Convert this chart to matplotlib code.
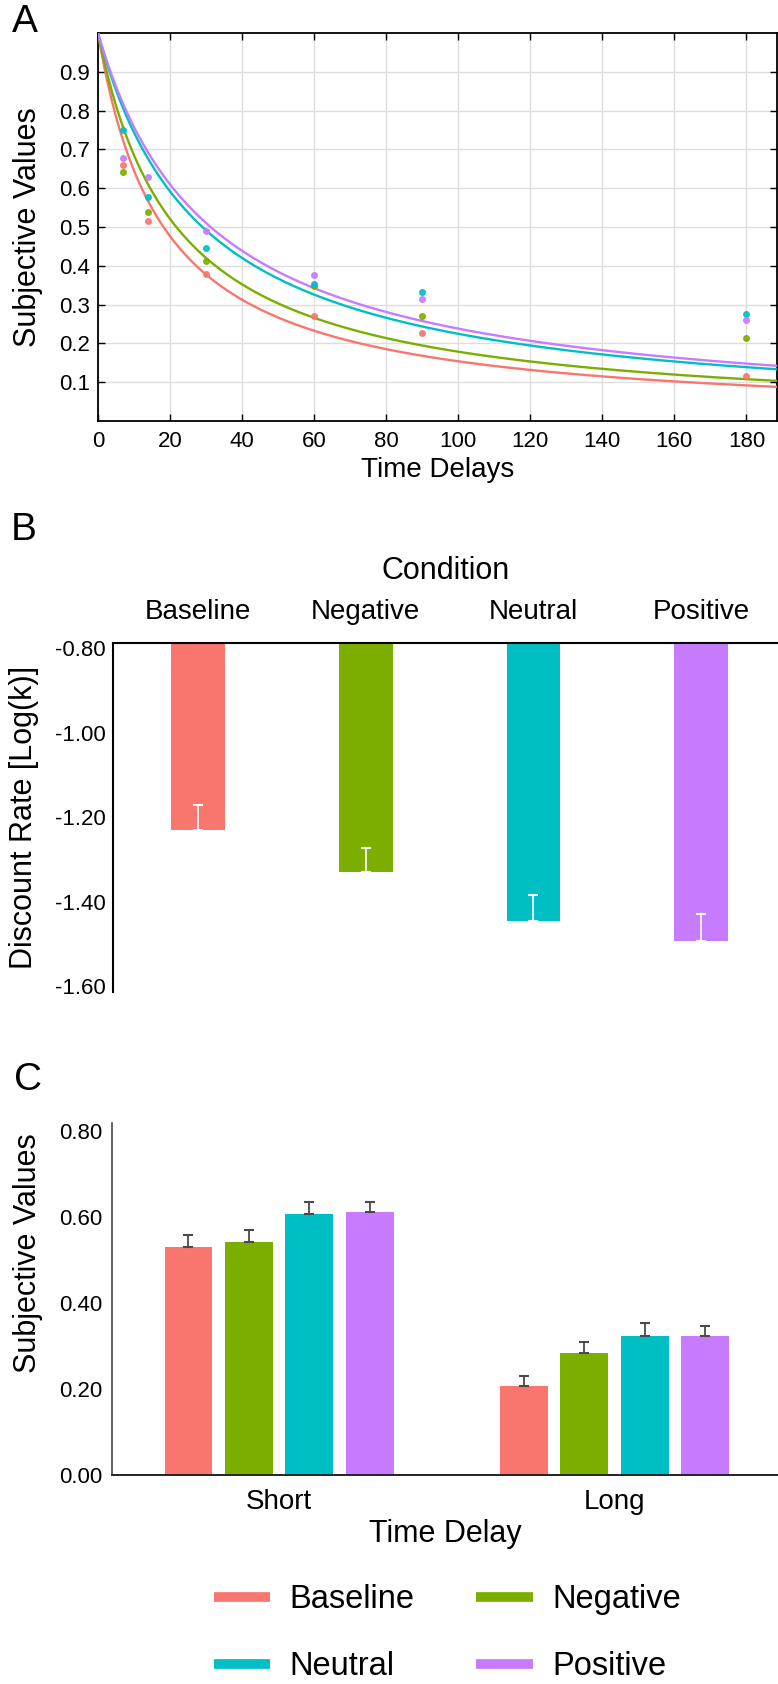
import numpy as np
import matplotlib
matplotlib.use('Agg')
import matplotlib.pyplot as plt
from matplotlib.lines import Line2D

plt.rcParams['font.family'] = ['Liberation Sans', 'DejaVu Sans']

# --- data ---
conditions = ['Baseline', 'Negative', 'Neutral', 'Positive']
colors = ['#F8766D', '#7CAE00', '#00BFC4', '#C77CFF']

# panel A: observed subjective values per delay
delays = [7, 14, 30, 60, 90, 180]
sv_baseline = [0.659, 0.515, 0.379, 0.270, 0.228, 0.116]
sv_negative = [0.641, 0.539, 0.413, 0.348, 0.270, 0.215]
sv_neutral = [0.750, 0.577, 0.445, 0.353, 0.333, 0.275]
sv_positive = [0.677, 0.630, 0.490, 0.376, 0.315, 0.260]
# fitted hyperbolic discount rates used for the curves
curve_k = [0.055, 0.046, 0.0345, 0.032]

# panel B: log(k) per condition
logk_mean = [-1.231, -1.329, -1.446, -1.493]
logk_se = [0.059, 0.055, 0.061, 0.063]

# panel C: subjective values by time delay
delay_groups = ['Short', 'Long']
short_mean = [0.530, 0.541, 0.606, 0.611]
short_se = [0.027, 0.029, 0.029, 0.024]
long_mean = [0.207, 0.284, 0.324, 0.324]
long_se = [0.024, 0.025, 0.029, 0.023]

W, H = 778, 1684
fig = plt.figure(figsize=(W / 100, H / 100), dpi=100)


def box(left, top, right, bottom):
    return [left / W, 1 - bottom / H, (right - left) / W, (bottom - top) / H]


# ---------------- Panel A ----------------
axA = fig.add_axes(box(98, 33, 777, 421))
obs = [sv_baseline, sv_negative, sv_neutral, sv_positive]
dgrid = np.linspace(0, 190, 400)
for k, col in zip(curve_k, colors):
    axA.plot(dgrid, 1 / (1 + k * dgrid), color=col, lw=1.7, zorder=3)
for vals, col in zip(obs, colors):
    axA.plot(delays, vals, 'o', color=col, ms=4, zorder=4, alpha=0.9)
axA.set_xlim(0, 188.5)
axA.set_ylim(0, 1)
axA.set_xticks(range(0, 181, 20))
axA.set_yticks(np.arange(1, 10) / 10)
axA.set_yticklabels([f'{v:.1f}' for v in np.arange(1, 10) / 10])
axA.grid(True, color='#dedede', lw=1)
axA.set_axisbelow(True)
axA.tick_params(direction='in', top=True, right=True, length=5, width=1)
axA.tick_params(axis='y', labelsize=16, pad=6)
axA.tick_params(axis='x', labelsize=16, pad=7)
for s in axA.spines.values():
    s.set_linewidth(1.3)
axA.set_xlabel('Time Delays', fontsize=20, labelpad=4)
axA.set_ylabel('Subjective Values', fontsize=22)
axA.yaxis.set_label_coords(-0.081, 0.5)

# ---------------- Panel B ----------------
axB = fig.add_axes(box(113, 642.7, 778, 991.7))
xb = np.arange(len(conditions))
axB.bar(xb, logk_mean, width=0.32, color=colors)
axB.errorbar(xb, logk_mean, yerr=[np.zeros(4), logk_se], fmt='none',
             ecolor='white', elinewidth=1.2, capsize=3.5, capthick=1.5)
axB.set_ylim(-1.613, -0.787)
axB.set_xlim(-0.507, 3.459)
axB.set_yticks([-0.8, -1.0, -1.2, -1.4, -1.6])
axB.set_yticklabels(['-0.80', '-1.00', '-1.20', '-1.40', '-1.60'])
axB.set_xticks(xb)
axB.set_xticklabels(conditions)
axB.xaxis.tick_top()
axB.xaxis.set_label_position('top')
axB.tick_params(length=0)
axB.tick_params(axis='x', labelsize=20, pad=13)
axB.tick_params(axis='y', labelsize=16, pad=5)
axB.spines['bottom'].set_visible(False)
axB.spines['right'].set_visible(False)
axB.spines['top'].set_linewidth(1.5)
axB.spines['left'].set_linewidth(1.5)
axB.set_xlabel('Condition', fontsize=22, labelpad=14)
axB.set_ylabel('Discount Rate [Log(k)]', fontsize=22)
axB.yaxis.set_label_coords(-0.111, 0.5)

# ---------------- Panel C ----------------
axC = fig.add_axes(box(112, 1123, 778, 1475))
xc = np.arange(len(delay_groups))
step, bw = 0.18, 0.143
for i, col in enumerate(colors):
    vals = [short_mean[i], long_mean[i]]
    errs = [short_se[i], long_se[i]]
    pos = xc + (i - 1.5) * step
    axC.bar(pos, vals, width=bw, color=col)
    axC.errorbar(pos, vals, yerr=[[0, 0], errs], fmt='none', ecolor='#4a4a4a',
                 elinewidth=1.3, capsize=3.5, capthick=1.5)
axC.set_ylim(0, 0.8186)
axC.set_xlim(-0.498, 1.487)
axC.set_yticks([0, 0.2, 0.4, 0.6, 0.8])
axC.set_yticklabels(['0.00', '0.20', '0.40', '0.60', '0.80'])
axC.set_xticks(xc)
axC.set_xticklabels(delay_groups)
axC.tick_params(length=0)
axC.tick_params(axis='x', labelsize=20, pad=10)
axC.tick_params(axis='y', labelsize=16, pad=7)
axC.spines['top'].set_visible(False)
axC.spines['right'].set_visible(False)
axC.spines['left'].set_color('#444444')
axC.spines['bottom'].set_color('#222222')
axC.spines['left'].set_linewidth(1.2)
axC.spines['bottom'].set_linewidth(1.4)
axC.set_xlabel('Time Delay', fontsize=22, labelpad=3)
axC.set_ylabel('Subjective Values', fontsize=22)
axC.yaxis.set_label_coords(-0.104, 0.63)

# panel letters
fig.text(12 / W, 1 - 22 / H, 'A', fontsize=28, va='center', ha='left')
fig.text(11 / W, 1 - 530 / H, 'B', fontsize=28, va='center', ha='left')
fig.text(14 / W, 1 - 1080 / H, 'C', fontsize=28, va='center', ha='left')

# legend
handles = [Line2D([0], [0], color=c, lw=7, solid_capstyle='butt') for c in colors]
order = [0, 2, 1, 3]
fig.legend([handles[i] for i in order], [conditions[i] for i in order],
           ncol=2, loc='center', bbox_to_anchor=(0.575, 0.0303), frameon=False,
           fontsize=23.5, handlelength=1.72, handletextpad=0.6,
           columnspacing=1.9, labelspacing=1.1)

fig.savefig('out.png', dpi=100)
